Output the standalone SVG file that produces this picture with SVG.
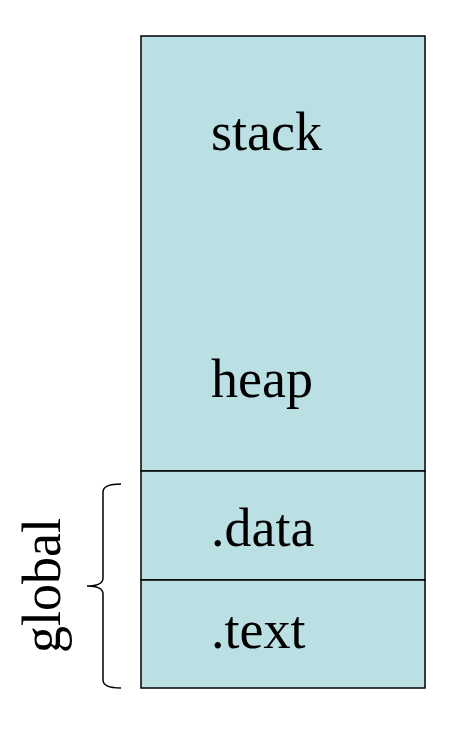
<svg xmlns="http://www.w3.org/2000/svg" width="449" height="756" viewBox="0 0 449 756">
<style>
.seg{fill:#BBE0E3;stroke:#000;stroke-width:1.5}
.lbl{font-family:"Liberation Serif","Times New Roman",serif;font-size:54px;fill:#000}
.brace{fill:none;stroke:#000;stroke-width:1.5}
</style>
<rect width="449" height="756" fill="#fff"/>
<g id="stackheap"><rect class="seg" x="141" y="36" width="284" height="435"/>
<text class="lbl" x="211" y="150">stack</text>
<text class="lbl" x="211" y="397">heap</text></g>
<g id="data"><rect class="seg" x="141" y="471" width="284" height="109"/>
<text class="lbl" x="211" y="546">.data</text></g>
<g id="text"><rect class="seg" x="141" y="580" width="284" height="108"/>
<text class="lbl" x="211" y="648">.text</text></g>
<g id="global"><path class="brace" d="M121,484 Q103,484 103,492 L103,578 Q103,586 87,586 Q103,586 103,594 L103,680 Q103,688 121,688"/>
<text class="lbl" transform="translate(60,653) rotate(-90)">global</text></g>
</svg>
